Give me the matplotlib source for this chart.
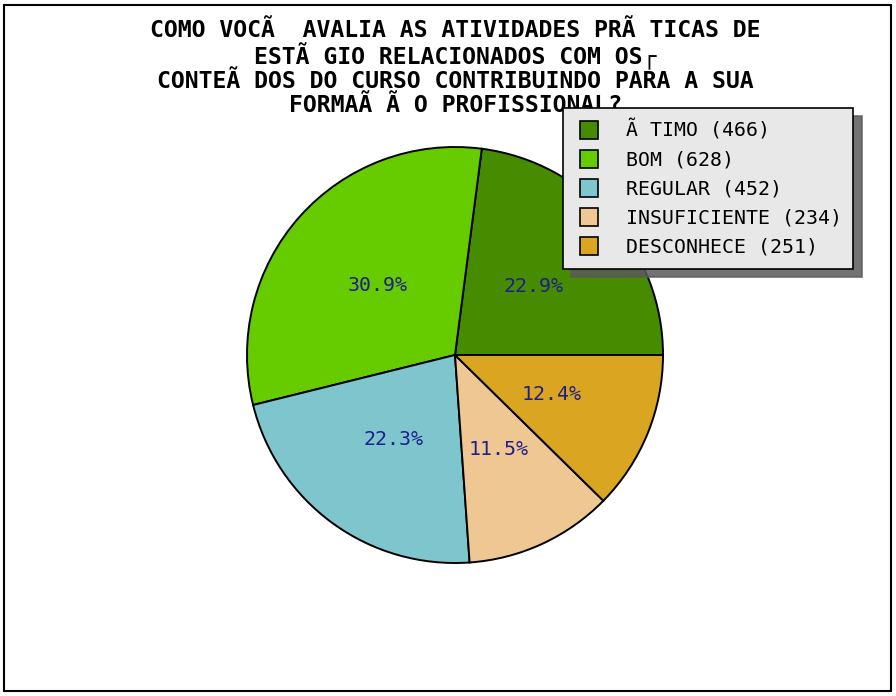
import matplotlib
matplotlib.use("Agg")
import matplotlib.pyplot as plt
from matplotlib.patches import Rectangle
from matplotlib.lines import Line2D

title = ("COMO VOCÃ  AVALIA AS ATIVIDADES PRÃ TICAS DE\n"
         "ESTÃ GIO RELACIONADOS COM OS┌\n"
         "CONTEÃ DOS DO CURSO CONTRIBUINDO PARA A SUA\n"
         "FORMAÃ Ã O PROFISSIONAL?")
categories = ["Ã TIMO", "BOM", "REGULAR", "INSUFICIENTE", "DESCONHECE"]
values = [466, 628, 452, 234, 251]
colors = ["#468b00", "#66cc00", "#7ec5cd", "#eec793", "#daa520"]

W, H = 896, 696
fig = plt.figure(figsize=(W / 100, H / 100), dpi=100)
fig.patch.set_facecolor("white")

# outer frame
fig.patches.append(Rectangle((4 / W, 5 / H), 887 / W, 686 / H, transform=fig.transFigure,
                             fill=False, edgecolor="black", linewidth=1.5))

cx, cy, r = 455, 355, 208
ax = fig.add_axes([(cx - r) / W, (H - cy - r) / H, 2 * r / W, 2 * r / H])
wedges, texts, autotexts = ax.pie(
    values, colors=colors, startangle=0, counterclock=True, radius=1,
    autopct="%.1f%%", pctdistance=0.5,
    wedgeprops=dict(edgecolor="black", linewidth=1.4),
    textprops=dict(family="DejaVu Sans Mono", fontsize=14.3, color="#1e1e8c"))
ax.set_xlim(-1, 1)
ax.set_ylim(-1, 1)
ax.set_aspect("equal")
ax.axis("off")

fig.text(cx / W, 1 - 19 / H, title, ha="center", va="top", family="DejaVu Sans Mono",
         fontweight="bold", fontsize=16.7, linespacing=1.02)

labels = [f"{c} ({v})" for c, v in zip(categories, values)]
handles = [Line2D([], [], linestyle="none", marker="s", markersize=13.5,
                  markerfacecolor=c, markeredgecolor="black", markeredgewidth=1.2)
           for c in colors]
leg = fig.legend(handles, labels, loc="upper left",
                 bbox_to_anchor=(563 / W, 1 - 108 / H), bbox_transform=fig.transFigure,
                 prop=dict(family="DejaVu Sans Mono", size=14.3),
                 frameon=True, fancybox=False, borderaxespad=0,
                 handlelength=1.4, handletextpad=1.15,
                 labelspacing=0.5, borderpad=0.6,
                 shadow=dict(ox=6, oy=-6, color="#5a5a5a", alpha=0.85))
leg.get_frame().set_facecolor("#e8e8e8")
leg.get_frame().set_edgecolor("black")
leg.get_frame().set_linewidth(1.2)
leg.get_frame().set_alpha(1)

fig.savefig("out.png", dpi=100)
